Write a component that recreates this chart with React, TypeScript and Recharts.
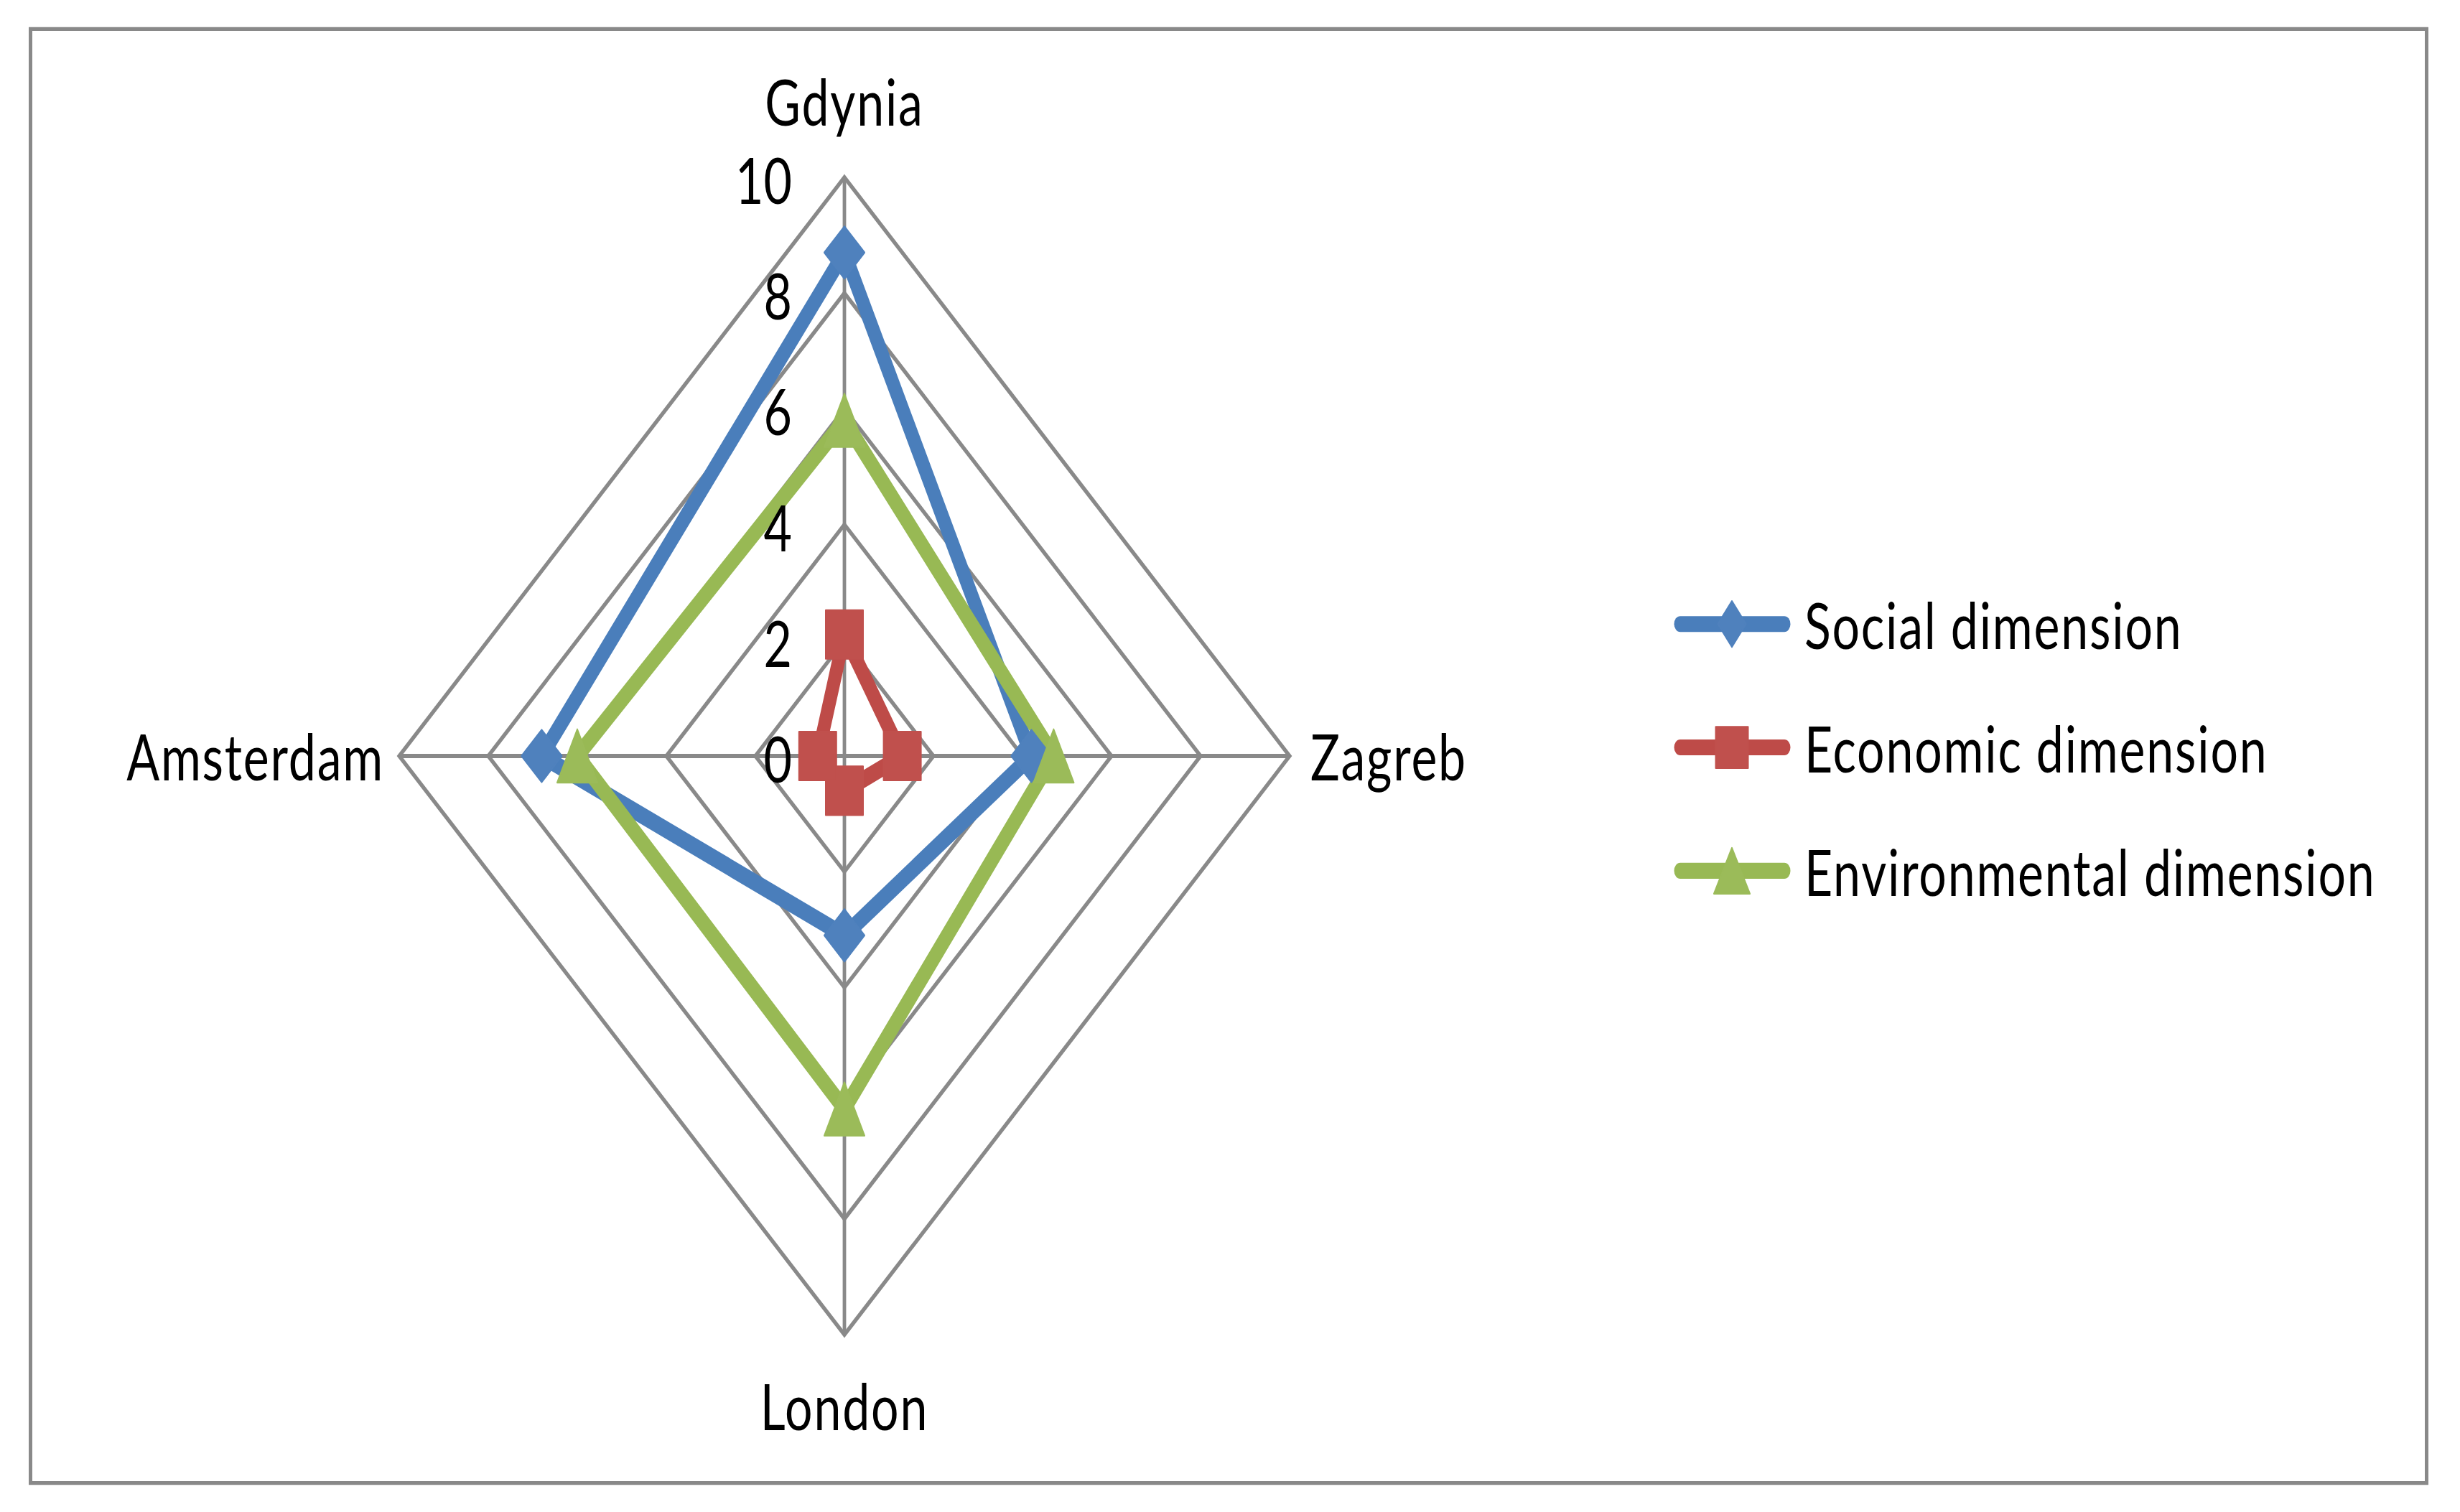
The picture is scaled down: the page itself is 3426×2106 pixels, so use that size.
import React from 'react';
import { RadarChart, Radar, PolarGrid, PolarAngleAxis, PolarRadiusAxis, Legend } from 'recharts';

const categories = ['Gdynia', 'Zagreb', 'London', 'Amsterdam'];
const socialValues = [8.7, 4.2, 3.1, 6.8];
const economicValues = [2.1, 1.3, 0.6, 0.6];
const environmentalValues = [5.8, 4.7, 6.1, 6.0];
const radiusTicks = [0, 2, 4, 6, 8, 10];
const seriesNames = ['Social dimension', 'Economic dimension', 'Environmental dimension'];
const lineColors = ['#4A7EBB', '#BE4B48', '#98B954'];
const markerColors = ['#4F81BD', '#C0504D', '#9BBB59'];

const data = categories.map((city, i) => ({
  city,
  social: socialValues[i],
  economic: economicValues[i],
  environmental: environmentalValues[i],
}));

const W = 3426;
const H = 1620;
const K = 1.3;
const FONT = 'Lato, "Open Sans", "DejaVu Sans", sans-serif';
const FS = 68;
const LS = 1.8;
const GRID = '#898989';

const diamond = (cx: number, cy: number, hw: number, hh: number, fill: string, key?: any) => (
  <polygon key={key} points={`${cx},${cy - hh} ${cx + hw},${cy} ${cx},${cy + hh} ${cx - hw},${cy}`} fill={fill} stroke={fill} strokeWidth={2} strokeLinejoin="round" />
);
const square = (cx: number, cy: number, hw: number, hh: number, fill: string, key?: any) => (
  <rect key={key} x={cx - hw} y={cy - hh} width={hw * 2} height={hh * 2} fill={fill} stroke={fill} strokeWidth={2} strokeLinejoin="round" />
);
const triangle = (cx: number, cy: number, hw: number, hh: number, fill: string, key?: any) => (
  <polygon key={key} points={`${cx},${cy - hh} ${cx + hw},${cy + hh} ${cx - hw},${cy + hh}`} fill={fill} stroke={fill} strokeWidth={2} strokeLinejoin="round" />
);
const shapes = [diamond, square, triangle];

const makeDot = (idx: number) => (p: any) => {
  const key = `dot-${idx}-${p.index}`;
  if (idx === 0) return diamond(p.cx, p.cy, 28, 28, markerColors[0], key);
  if (idx === 1) return square(p.cx, p.cy, 26, 26, markerColors[1], key);
  return triangle(p.cx, p.cy, 28, 28.5, markerColors[2], key);
};

const AngleTick = (p: any) => {
  const { x, y, payload } = p;
  const a = (payload.coordinate * Math.PI) / 180;
  const c = Math.cos(a);
  const s = Math.sin(a);
  let anchor: any = 'middle';
  let dx = 0;
  let dy = 0;
  if (Math.abs(c) > 0.5) {
    anchor = c > 0 ? 'start' : 'end';
    dx = c > 0 ? 21 : -13;
    dy = 26;
  } else if (s > 0) {
    dy = -47;
  } else {
    dy = 94;
  }
  return (
    <text x={x + dx} y={y + dy} textAnchor={anchor} fontSize={FS} letterSpacing={LS} fontFamily={FONT} fill="#000">
      {payload.value}
    </text>
  );
};

const RadiusTick = (p: any) => {
  const { x, y, payload } = p;
  return (
    <text x={x - 73} y={y + 28.5} textAnchor="end" fontSize={FS} fontFamily={FONT} fill="#000">
      {payload.value}
    </text>
  );
};

const LegendContent = (props: any) => {
  const payload = [...(props.payload || [])].sort(
    (a: any, b: any) => seriesNames.indexOf(a.value) - seriesNames.indexOf(b.value)
  );
  return (
    <svg width={1050} height={420}>
      {payload.map((entry: any) => {
        const i = seriesNames.indexOf(entry.value);
        const cy = 68.6 + i * 132.2;
        const sh = shapes[i];
        const dims = i === 0 ? [19.5, 24.5] : i === 1 ? [22.5, 22] : [25, 24.5];
        return (
          <g key={`leg-${i}`}>
            <line x1={18} y1={cy} x2={163} y2={cy} stroke={lineColors[i]} strokeWidth={17} strokeLinecap="round" />
            {sh(90, cy, dims[0], dims[1], markerColors[i])}
            <text x={191} y={cy + 27} fontSize={FS} letterSpacing={LS} fontFamily={FONT} fill="#000">
              {entry.value}
            </text>
          </g>
        );
      })}
    </svg>
  );
};

export default function App() {
  return (
    <div
      style={{
        position: 'absolute',
        left: 0,
        top: 0,
        width: W,
        height: H,
        transform: `scale(1, ${K})`,
        transformOrigin: '0 0',
        background: '#fff',
        overflow: 'hidden',
      }}
    >
      <div
        style={{
          position: 'absolute',
          left: 40,
          top: 28.7,
          width: 3342,
          height: 1562.8,
          boxSizing: 'border-box',
          borderStyle: 'solid',
          borderColor: GRID,
          borderWidth: '4.6px 5px',
        }}
      />
      <div style={{ position: 'absolute', left: 0, top: 0 }}>
        <RadarChart width={W} height={H} data={data} cx={1176} cy={810} outerRadius={620} startAngle={90} endAngle={-270}>
          <PolarGrid gridType="polygon" stroke={GRID} strokeWidth={4.8} radialLines={true} />
          <PolarAngleAxis dataKey="city" tick={AngleTick} tickLine={false} tickSize={0} axisLine={false} />
          <PolarRadiusAxis
            angle={90}
            domain={[0, 10]}
            ticks={radiusTicks as any}
            tickCount={6}
            tick={RadiusTick}
            tickLine={false}
            axisLine={false}
          />
          <Radar
            name={seriesNames[0]}
            dataKey="social"
            stroke={lineColors[0]}
            strokeWidth={18}
            strokeLinejoin="round"
            fill="none"
            fillOpacity={0}
            dot={makeDot(0)}
            isAnimationActive={false}
          />
          <Radar
            name={seriesNames[1]}
            dataKey="economic"
            stroke={lineColors[1]}
            strokeWidth={18}
            strokeLinejoin="round"
            fill="none"
            fillOpacity={0}
            dot={makeDot(1)}
            isAnimationActive={false}
          />
          <Radar
            name={seriesNames[2]}
            dataKey="environmental"
            stroke={lineColors[2]}
            strokeWidth={18}
            strokeLinejoin="round"
            fill="none"
            fillOpacity={0}
            dot={makeDot(2)}
            isAnimationActive={false}
          />
          <Legend
            content={LegendContent}
            wrapperStyle={{ position: 'absolute', left: 2322, top: 600, width: 1050, height: 420 }}
          />
        </RadarChart>
      </div>
    </div>
  );
}
